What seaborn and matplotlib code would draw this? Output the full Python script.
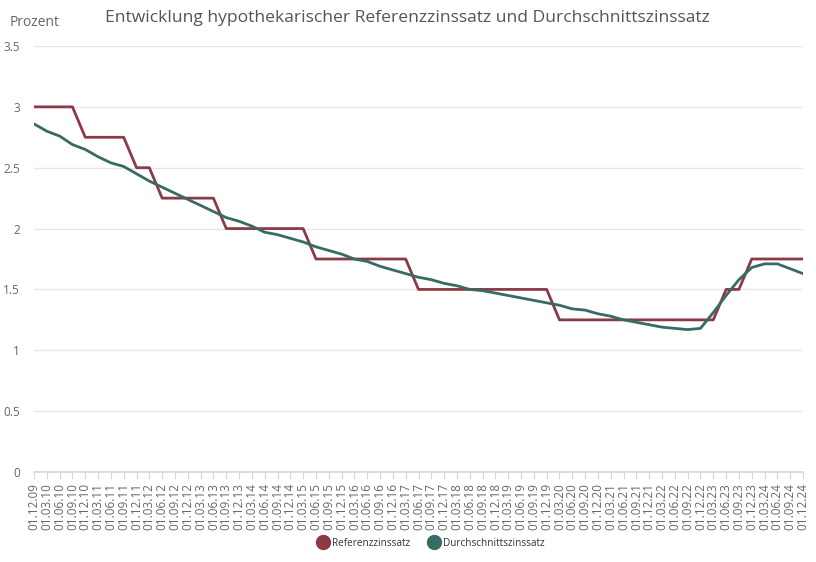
import pandas as pd
import numpy as np
import matplotlib
matplotlib.use("Agg")
import matplotlib.pyplot as plt
from matplotlib.lines import Line2D
import seaborn as sns

# quarterly dates, 01.12.09 .. 01.12.24
dates = pd.date_range("2009-12-01", "2024-12-01", freq="QS-DEC").strftime("%d.%m.%y").tolist()

referenz = [3.0] * 4 + [2.75] * 4 + [2.5] * 2 + [2.25] * 5 + [2.0] * 7 + [1.75] * 8 \
    + [1.5] * 11 + [1.25] * 13 + [1.5] * 2 + [1.75] * 5

durchschnitt = [2.86, 2.80, 2.76, 2.69, 2.65, 2.59, 2.54, 2.51, 2.45, 2.39,
                2.34, 2.29, 2.24, 2.19, 2.14, 2.09, 2.06, 2.02, 1.97, 1.95,
                1.92, 1.89, 1.85, 1.82, 1.79, 1.75, 1.73, 1.69, 1.66, 1.63,
                1.60, 1.58, 1.55, 1.53, 1.50, 1.49, 1.47, 1.45, 1.43, 1.41,
                1.39, 1.37, 1.34, 1.33, 1.30, 1.28, 1.25, 1.23, 1.21, 1.19,
                1.18, 1.17, 1.18, 1.31, 1.45, 1.58, 1.68, 1.71, 1.71, 1.67,
                1.63]

series_names = ["Referenzzinssatz", "Durchschnittszinssatz"]
colors = ["#8c3a45", "#386b64"]

df = pd.DataFrame({"idx": list(range(len(dates))) * 2,
                   "wert": referenz + durchschnitt,
                   "serie": [series_names[0]] * len(dates) + [series_names[1]] * len(dates)})

sns.set_theme(style="white")
plt.rcParams["font.family"] = ["Open Sans", "DejaVu Sans"]

fig = plt.figure(figsize=(8.16, 5.62), dpi=100)
ax = fig.add_axes([34 / 816, 1 - 472 / 562, (803 - 34) / 816, (472 - 46) / 562])

sns.lineplot(data=df, x="idx", y="wert", hue="serie", palette=colors,
             linewidth=2.0, ax=ax, legend=False)

ax.set_xlim(0, len(dates) - 1)
ax.set_ylim(0, 3.5)
ax.set_yticks(np.arange(0, 3.51, 0.5))
ax.set_yticklabels(["0", "0.5", "1", "1.5", "2", "2.5", "3", "3.5"])
ax.set_xticks(range(len(dates)))
ax.set_xticklabels(dates, rotation=90)
ax.set_xlabel("")
ax.set_ylabel("")

ax.grid(axis="y", color="#e6e6e6", linewidth=1)
ax.set_axisbelow(True)
for s in ["top", "right", "left"]:
    ax.spines[s].set_visible(False)
ax.spines["bottom"].set_color("#d8d8d8")
ax.tick_params(axis="y", length=0, pad=10, labelsize=8.5, labelcolor="#666666")
ax.tick_params(axis="x", length=5, width=0.8, color="#d8d8d8", pad=3,
               labelsize=8.5, labelcolor="#666666", bottom=True)

fig.text(10 / 816, 1 - 22 / 562, "Prozent", fontsize=10, color="#666666", va="center")
fig.text(407 / 816, 1 - 18 / 562,
         "Entwicklung hypothekarischer Referenzzinssatz und Durchschnittszinssatz",
         fontsize=12.6, color="#555555", ha="center", va="center")

handles = [Line2D([], [], marker="o", linestyle="none", markersize=10,
                  markerfacecolor=c, markeredgecolor=c) for c in colors]
fig.legend(handles, series_names, loc="center", bbox_to_anchor=(431 / 816, 1 - 543 / 562),
           ncol=2, frameon=False, fontsize=7.2, handlelength=1.2, handletextpad=0.3,
           columnspacing=1.8, labelcolor="#333333")

fig.savefig("out.png", dpi=100)
